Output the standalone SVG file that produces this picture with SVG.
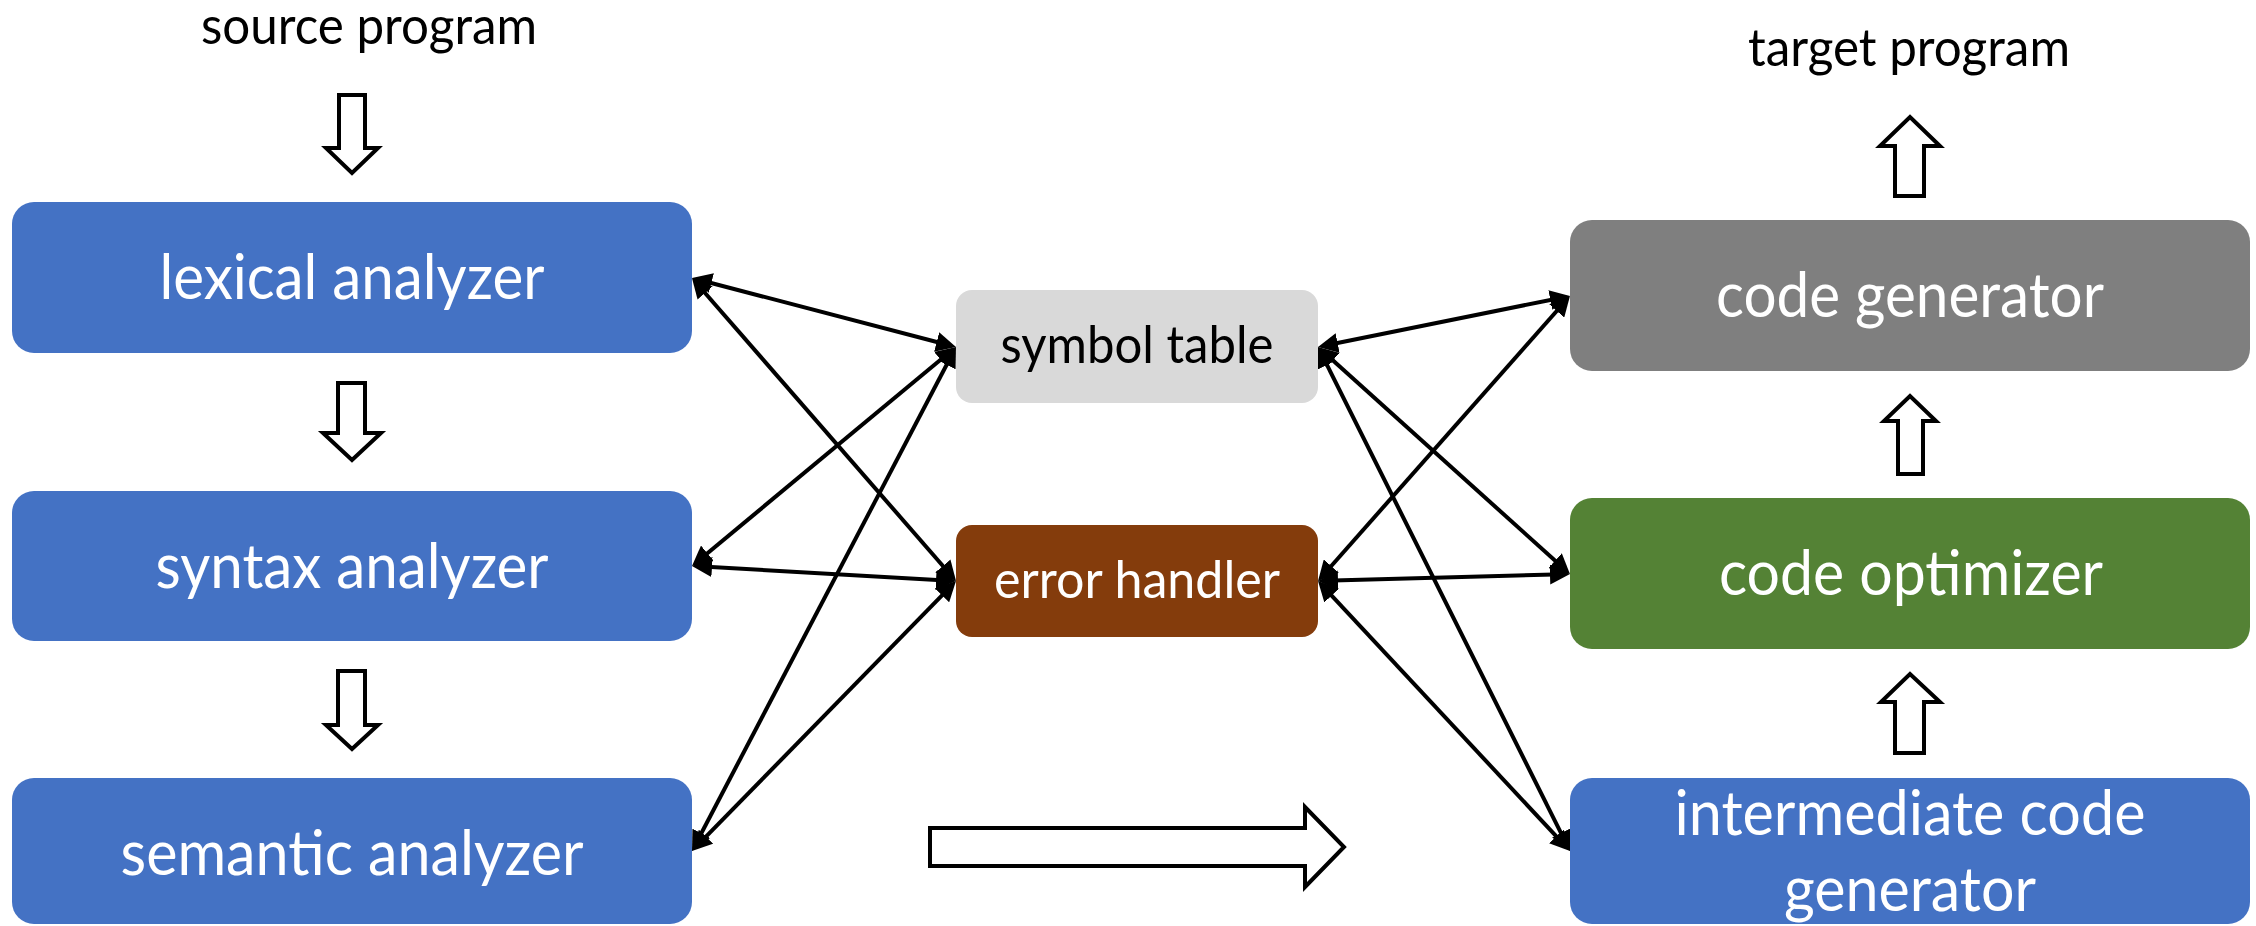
<svg xmlns="http://www.w3.org/2000/svg" width="2256" height="926" viewBox="0 0 2256 926">
  <style>
    .lbl { font-family: Lato, "Open Sans", "Liberation Sans", sans-serif; text-anchor: middle; }
    .big { font-size: 62px; fill: #FFFFFF; }
    .mid { font-size: 52px; }
    .title { font-size: 52px; fill: #000000; }
    .conn { stroke: #000000; stroke-width: 4; fill: none; marker-start: url(#ah); marker-end: url(#ah); }
    .blk { fill: #FFFFFF; stroke: #000000; stroke-width: 4; stroke-linejoin: miter; }
  </style>
  <defs>
    <marker id="ah" markerUnits="userSpaceOnUse" viewBox="0 0 20 20" markerWidth="20" markerHeight="20" refX="14" refY="10" orient="auto-start-reverse">
      <path d="M0,0 L20,10 L0,20 z" fill="#000000"/>
    </marker>
  </defs>
  <rect width="2256" height="926" fill="#FFFFFF"/>

  <g id="source-program">
    <text class="lbl title" x="369" y="44" textLength="336" lengthAdjust="spacingAndGlyphs">source program</text>
  </g>
  <g id="target-program">
    <text class="lbl title" x="1909" y="66" textLength="322" lengthAdjust="spacingAndGlyphs">target program</text>
  </g>

  <g id="lexical-analyzer">
    <rect x="12" y="202" width="680" height="151" rx="22" fill="#4472C4"/>
    <text class="lbl big" x="352" y="299" textLength="385" lengthAdjust="spacingAndGlyphs">lexical analyzer</text>
  </g>
  <g id="syntax-analyzer">
    <rect x="12" y="491" width="680" height="150" rx="22" fill="#4472C4"/>
    <text class="lbl big" x="352" y="588" textLength="393" lengthAdjust="spacingAndGlyphs">syntax analyzer</text>
  </g>
  <g id="semantic-analyzer">
    <rect x="12" y="778" width="680" height="146" rx="22" fill="#4472C4"/>
    <text class="lbl big" x="352" y="875" textLength="463" lengthAdjust="spacingAndGlyphs">semantic analyzer</text>
  </g>

  <g id="symbol-table">
    <rect x="956" y="290" width="362" height="113" rx="16" fill="#D9D9D9"/>
    <text class="lbl mid" x="1137" y="363" fill="#000000" textLength="273" lengthAdjust="spacingAndGlyphs">symbol table</text>
  </g>
  <g id="error-handler">
    <rect x="956" y="525" width="362" height="112" rx="16" fill="#843C0C"/>
    <text class="lbl mid" x="1137" y="598" fill="#FFFFFF" textLength="286" lengthAdjust="spacingAndGlyphs">error handler</text>
  </g>

  <g id="code-generator">
    <rect x="1570" y="220" width="680" height="151" rx="22" fill="#7F7F7F"/>
    <text class="lbl big" x="1910" y="317" textLength="388" lengthAdjust="spacingAndGlyphs">code generator</text>
  </g>
  <g id="code-optimizer">
    <rect x="1570" y="498" width="680" height="151" rx="22" fill="#548235"/>
    <text class="lbl big" x="1911" y="595" textLength="384" lengthAdjust="spacingAndGlyphs">code optimizer</text>
  </g>
  <g id="intermediate-code-generator">
    <rect x="1570" y="778" width="680" height="146" rx="22" fill="#4472C4"/>
    <text class="lbl big" x="1910" y="835" textLength="471" lengthAdjust="spacingAndGlyphs">intermediate code</text>
    <text class="lbl big" x="1910" y="911" textLength="252" lengthAdjust="spacingAndGlyphs">generator</text>
  </g>

  <g id="connectors">
    <line class="conn" x1="697.8" y1="279.5" x2="950.2" y2="345.5"/>
    <line class="conn" x1="695.9" y1="282.5" x2="952.1" y2="576.5"/>
    <line class="conn" x1="696.6" y1="562.2" x2="951.4" y2="350.8"/>
    <line class="conn" x1="698.0" y1="566.3" x2="950.0" y2="580.7"/>
    <line class="conn" x1="694.8" y1="845.7" x2="953.2" y2="352.3"/>
    <line class="conn" x1="696.2" y1="846.7" x2="951.8" y2="585.3"/>
    <line class="conn" x1="1323.9" y1="345.8" x2="1564.1" y2="297.2"/>
    <line class="conn" x1="1322.5" y1="351.0" x2="1565.5" y2="570.0"/>
    <line class="conn" x1="1320.7" y1="352.4" x2="1567.3" y2="845.6"/>
    <line class="conn" x1="1322.0" y1="576.5" x2="1566.0" y2="300.5"/>
    <line class="conn" x1="1324.0" y1="580.8" x2="1564.0" y2="574.2"/>
    <line class="conn" x1="1322.1" y1="585.4" x2="1565.9" y2="846.6"/>

    <g id="flow-arrows">
      <polygon class="blk" points="339,95 365,95 365,148 378,148 352,173 326,148 339,148"/>
      <polygon class="blk" points="338,383 365,383 365,433 381,433 352,460 323,433 338,433"/>
      <polygon class="blk" points="338,671 365,671 365,725 378,725 352,749 326,725 338,725"/>
      <polygon class="blk" points="1895,196 1924,196 1924,146 1940,146 1910,117 1880,146 1895,146"/>
      <polygon class="blk" points="1898,474 1923,474 1923,421 1936,421 1910,396 1884,421 1898,421"/>
      <polygon class="blk" points="1895,753 1924,753 1924,702 1940,702 1910,674 1881,702 1895,702"/>
      <polygon class="blk" points="930,828 1305,828 1305,807 1344,847 1305,887 1305,866 930,866"/>
    </g>
  </g>
</svg>
